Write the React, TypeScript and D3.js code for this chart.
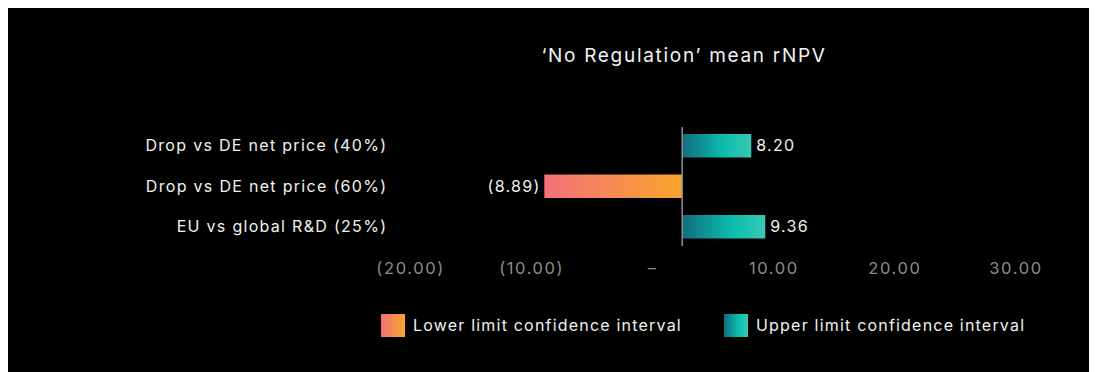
import React from "react";
import * as d3 from "d3";

// Scenario rows and their confidence-interval limits (rNPV)
const categories = [
  "Drop vs DE net price (40%)",
  "Drop vs DE net price (60%)",
  "EU vs global R&D (25%)",
];
const limitValues = [8.2, -8.89, 9.36];
const meanRNPV = 2.5;
const tickValues = [-20, -10, 0, 10, 20, 30];
const titleText = "\u2018No Regulation\u2019 mean rNPV";
const legendLabels = ["Lower limit confidence interval", "Upper limit confidence interval"];

const W = 1089;
const H = 364;
const FONT = "Inter, 'Noto Sans', sans-serif";
const LS = 1.3;

const fmt = (v: number) => {
  const f = d3.format(".2f");
  if (v === 0) return "\u2013";
  return v < 0 ? `(${f(-v)})` : f(v);
};

export default function App() {
  const x = d3.scaleLinear().domain([-20, 30]).range([401.8, 1007.2]);
  const y = d3
    .scaleBand<string>()
    .domain(categories)
    .range([117.5, 239])
    .paddingInner(0.42)
    .paddingOuter(0.21);
  const bw = y.bandwidth();
  const base = x(meanRNPV);

  return (
    <svg width={W} height={H} style={{ display: "block", background: "#000" }}>
      <defs>
        <linearGradient id="gLow" x1="0" x2="1" y1="0" y2="0">
          <stop offset="0%" stopColor="#f2717a" />
          <stop offset="100%" stopColor="#f9a52c" />
        </linearGradient>
        <linearGradient id="gUp" x1="0" x2="1" y1="0" y2="0">
          <stop offset="0%" stopColor="#136c80" />
          <stop offset="60%" stopColor="#0bbdab" />
          <stop offset="100%" stopColor="#37c8b4" />
        </linearGradient>
      </defs>
      <rect x={0} y={0} width={W} height={H} fill="#000" />

      <text
        x={676}
        y={54}
        textAnchor="middle"
        fill="#f2f2f2"
        fontFamily={FONT}
        fontSize={19}
        letterSpacing={1.7}
      >
        {titleText}
      </text>

      {categories.map((c, i) => {
        const v = limitValues[i];
        const yy = y(c)!;
        const x0 = Math.min(base, x(v));
        const x1 = Math.max(base, x(v));
        const neg = v < 0;
        return (
          <g key={c}>
            <text
              x={378 + LS}
              y={yy + bw / 2}
              dy="0.35em"
              textAnchor="end"
              fill="#f0f0f0"
              fontFamily={FONT}
              fontSize={16}
              letterSpacing={LS}
            >
              {c}
            </text>
            <rect
              x={x0}
              y={yy}
              width={x1 - x0}
              height={bw}
              fill={neg ? "url(#gLow)" : "url(#gUp)"}
            />
            <text
              x={neg ? x0 - 5 + LS : x1 + 5}
              y={yy + bw / 2}
              dy="0.35em"
              textAnchor={neg ? "end" : "start"}
              fill="#f0f0f0"
              fontFamily={FONT}
              fontSize={16}
              letterSpacing={LS}
            >
              {fmt(v)}
            </text>
          </g>
        );
      })}

      <line x1={base} x2={base} y1={119} y2={238} stroke="#8a8a8a" strokeWidth={1.6} />

      {tickValues.map((t) => (
        <text
          key={t}
          x={x(t) + 0.8}
          y={260}
          dy="0.35em"
          textAnchor="middle"
          fill="#8c8c8c"
          fontFamily={FONT}
          fontSize={16.5}
          letterSpacing={1.6}
        >
          {fmt(t)}
        </text>
      ))}

      {legendLabels.map((l, i) => {
        const sx = i === 0 ? 373 : 716;
        return (
          <g key={l}>
            <rect
              x={sx}
              y={306}
              width={24}
              height={23}
              fill={i === 0 ? "url(#gLow)" : "url(#gUp)"}
            />
            <text
              x={sx + 32}
              y={317.5}
              dy="0.35em"
              fill="#f0f0f0"
              fontFamily={FONT}
              fontSize={16}
              letterSpacing={1.2}
            >
              {l}
            </text>
          </g>
        );
      })}
    </svg>
  );
}
